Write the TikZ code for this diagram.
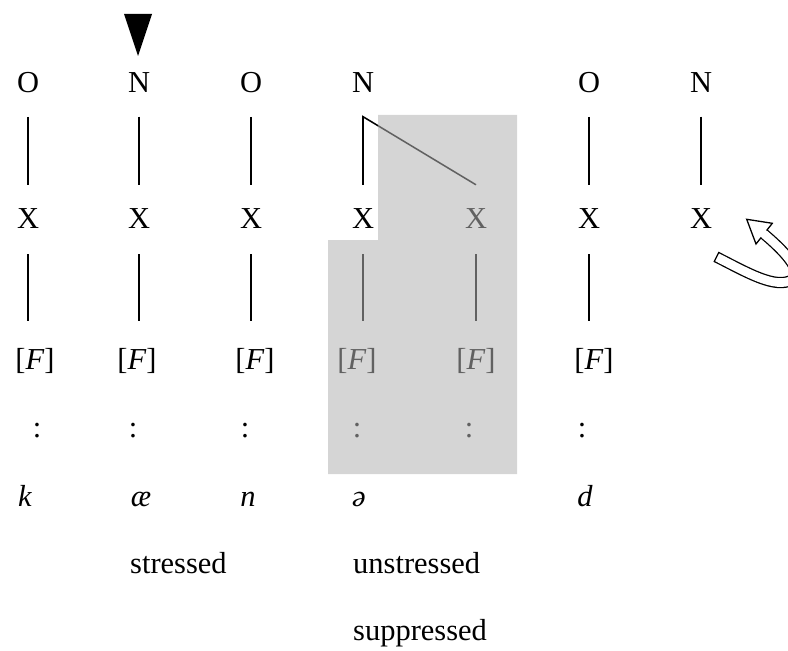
\documentclass[tikz,border=0pt]{standalone}
\usepackage{fontspec}
\setmainfont{Liberation Serif}
\usepackage{tikz}
\usetikzlibrary{calc}

\begin{document}
\begin{tikzpicture}[x=0.03cm, y=-0.03cm,
    every node/.style={inner sep=0pt, font=\fontsize{26}{30}\selectfont},
    tier/.style={anchor=base},
    link/.style={line width=1.3pt, shorten <=20pt, shorten >=20.5pt},
    flink/.style={link, shorten <=21.3pt, shorten >=23pt},
    muted/.style={fill=black!30, fill opacity=0.55}]
    \useasboundingbox (0,0) rectangle (788,651);
    % stress mark
    \fill (124,14) -- (152,14) -- (138,56) -- cycle;
    % syllabic tier
    \node[tier] (o1) at (28,93) {O};
    \node[tier] (o2) at (139,93) {N};
    \node[tier] (o3) at (251,93) {O};
    \node[tier] (o4) at (363,93) {N};
    \node[tier] (o6) at (589,93) {O};
    \node[tier] (o7) at (701,93) {N};
    % skeletal tier
    \node[tier] (x1) at (28,229) {X};
    \node[tier] (x2) at (139,229) {X};
    \node[tier] (x3) at (251,229) {X};
    \node[tier] (x4) at (363,229) {X};
    \node[tier] (x5) at (476,229) {X};
    \node[tier] (x6) at (589,229) {X};
    \node[tier] (x7) at (701,229) {X};
    % features
    \node[tier] (f1) at (35,369) {[\textit{F}]};
    \node[tier] (f2) at (137,369) {[\textit{F}]};
    \node[tier] (f3) at (255,369) {[\textit{F}]};
    \node[tier] (f4) at (357,369) {[\textit{F}]};
    \node[tier] (f5) at (476,369) {[\textit{F}]};
    \node[tier] (f6) at (594,369) {[\textit{F}]};
    \node[tier] (c1) at (37,437) {:};
    \node[tier] (c2) at (133,437) {:};
    \node[tier] (c3) at (245,437) {:};
    \node[tier] (c4) at (357,437) {:};
    \node[tier] (c5) at (469,437) {:};
    \node[tier] (c6) at (582,437) {:};
    % segments
    \node[tier] (s1) at (25,506) {\textit{k}};
    \node[tier] (s2) at (141,506) {\textit{æ}};
    \node[tier] (s3) at (248,506) {\textit{n}};
    \node[tier] (s4) at (359,506) {\textit{ə}};
    \node[tier] (s6) at (585,506) {\textit{d}};
    \node[anchor=base west] (st) at (130,573) {stressed};
    \node[anchor=base west] (un) at (353,573) {unstressed};
    \node[anchor=base west] (su) at (353,640) {suppressed};
    % associations
    \draw[link] (o1) -- (x1);
    \draw[link] (o2) -- (x2);
    \draw[link] (o3) -- (x3);
    \draw[link] (o6) -- (x6);
    \draw[link] (o7) -- (x7);
    \path (o4.south) ++(0,-20pt) coordinate (v4);
    \path (x4.north) ++(0,20.5pt) coordinate (e4);
    \path (x5.north) ++(0,20.5pt) coordinate (e5);
    \draw[line width=1.3pt] (e4) -- (v4) -- (e5);
    \draw[flink] (x1) -- (x1 |- f1.north);
    \draw[flink] (x2) -- (x2 |- f2.north);
    \draw[flink] (x3) -- (x3 |- f3.north);
    \draw[flink] (x4) -- (x4 |- f4.north);
    \draw[flink] (x5) -- (x5 |- f5.north);
    \draw[flink] (x6) -- (x6 |- f6.north);
    % rotating arrow
    \draw[line width=1.1pt, double=white, double distance=7.4pt]
      (716.5,257) .. controls (748,273) and (775,289) .. (792,280)
      .. controls (805,272) and (782,249) .. (764,234);
    \draw[line width=1.1pt] (719,252) -- (714,262);
    \draw[line width=1.1pt, fill=white] (756,244) -- (746.7,219.3) -- (772.3,223.3) -- cycle;
    \draw[white, line width=7.1pt] (767.8,237.2) -- (761.7,232.1);
    % suppressed span
    \fill[muted] (378,115) -- (517,115) -- (517,474) -- (328,474) -- (328,240) -- (378,240) -- cycle;
\end{tikzpicture}
\end{document}
